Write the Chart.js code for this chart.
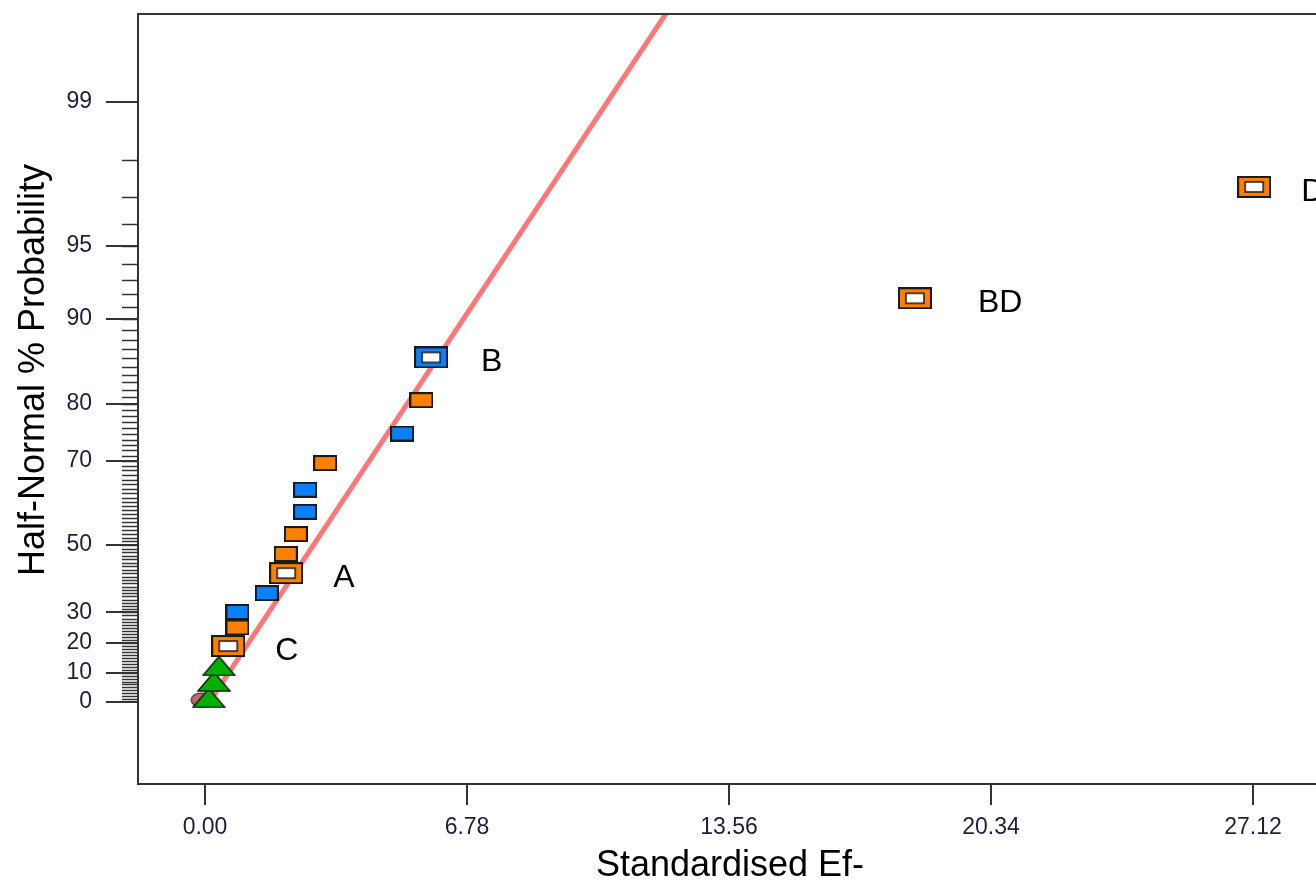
<!DOCTYPE html>
<html>
<head>
<meta charset="utf-8">
<title>Half-Normal Plot</title>
<script src="https://cdn.jsdelivr.net/npm/chart.js@4"></script>
<style>
  html, body { margin: 0; padding: 0; background: #fff; overflow: hidden; }
  canvas { display: block; }
</style>
</head>
<body>
<canvas id="mycanvas" width="1330" height="884"></canvas>
<script>
// effects: x = standardised effect, p = half-normal % probability
var bigOrangeNames = ['C', 'A', 'BD', 'D'];
var bigOrangeX = [0.60, 2.10, 18.37, 27.15];
var bigOrangeP = [19.0, 42.0, 91.7, 97.3];

var bigBlueNames = ['B'];
var bigBlueX = [5.85];
var bigBlueP = [86.1];

var orangeX = [0.84, 2.09, 2.35, 3.11, 5.60];
var orangeP = [25.1, 47.5, 52.9, 69.5, 80.5];

var blueX = [0.84, 1.60, 2.59, 2.59, 5.10];
var blueP = [30.1, 36.0, 58.6, 63.8, 75.1];

// error estimates
var errorX = [0.10, 0.23, 0.36];
var errorP = [1.4, 7.0, 12.3];

var otherX = [-0.10];
var otherP = [0.7];

// reference line
var lineX = [0.11, 12.3];
var lineP = [0, 99.77];

var xTicks = [0, 6.78, 13.56, 20.34, 27.12];
var yTicks = [0, 10, 20, 30, 50, 70, 80, 90, 95, 99];

// inverse normal cdf (Acklam), used for the half-normal probability axis
function normInv(p) {
  var a = [-3.969683028665376e+01, 2.209460984245205e+02, -2.759285104469687e+02, 1.383577518672690e+02, -3.066479806614716e+01, 2.506628277459239e+00];
  var b = [-5.447609879822406e+01, 1.615858368580409e+02, -1.556989798598866e+02, 6.680131188771972e+01, -1.328068155288572e+01];
  var c = [-7.784894002430293e-03, -3.223964580411365e-01, -2.400758277161838e+00, -2.549671489193467e+00, 4.374664141464968e+00, 2.938163982698783e+00];
  var d = [7.784695709041462e-03, 3.224671290700398e-01, 2.445134137142996e+00, 3.754408661907416e+00];
  var pl = 0.02425, q, r;
  if (p < pl) {
    q = Math.sqrt(-2 * Math.log(p));
    return (((((c[0]*q+c[1])*q+c[2])*q+c[3])*q+c[4])*q+c[5]) / ((((d[0]*q+d[1])*q+d[2])*q+d[3])*q+1);
  }
  if (p <= 1 - pl) {
    q = p - 0.5; r = q * q;
    return (((((a[0]*r+a[1])*r+a[2])*r+a[3])*r+a[4])*r+a[5])*q / (((((b[0]*r+b[1])*r+b[2])*r+b[3])*r+b[4])*r+1);
  }
  q = Math.sqrt(-2 * Math.log(1 - p));
  return -(((((c[0]*q+c[1])*q+c[2])*q+c[3])*q+c[4])*q+c[5]) / ((((d[0]*q+d[1])*q+d[2])*q+d[3])*q+1);
}
function probit(pct) { return normInv(0.5 + pct / 200); }

function toPoints(xs, ps) {
  return xs.map(function(x, i) { return {x: x, y: probit(ps[i])}; });
}

// marker images
function boxMarker(fill, big) {
  var c = document.createElement('canvas');
  var w = big ? 34 : 24, h = big ? 22 : 16;
  c.width = w; c.height = h;
  var g = c.getContext('2d');
  g.fillStyle = fill;
  g.fillRect(1, 1, w - 2, h - 2);
  g.strokeStyle = '#1a1a1a';
  g.lineWidth = 2;
  g.strokeRect(1, 1, w - 2, h - 2);
  if (big) {
    g.fillStyle = '#fff';
    g.fillRect(8, 6, w - 16, h - 12);
    g.lineWidth = 1.5;
    g.strokeRect(8, 6, w - 16, h - 12);
  }
  return c;
}
function triMarker() {
  var c = document.createElement('canvas');
  c.width = 34; c.height = 21;
  var g = c.getContext('2d');
  g.beginPath();
  g.moveTo(17, 1); g.lineTo(33, 20); g.lineTo(1, 20); g.closePath();
  g.fillStyle = '#00b000'; g.fill();
  g.strokeStyle = '#1a1a1a'; g.lineWidth = 1.5; g.stroke();
  return c;
}
function dotMarker() {
  var c = document.createElement('canvas');
  c.width = 22; c.height = 16;
  var g = c.getContext('2d');
  g.beginPath();
  g.ellipse(11, 8, 10, 7, 0, 0, Math.PI * 2);
  g.fillStyle = '#c46a6a'; g.fill();
  g.strokeStyle = '#333'; g.lineWidth = 1.2; g.stroke();
  return c;
}

var FONT = "Arial, 'Liberation Sans', sans-serif";
var labelGap = {B: 50, BD: 63}; // default gap is 47

var extras = {
  id: 'extras',
  afterDraw: function(chart) {
    var ctx = chart.ctx, a = chart.chartArea, y = chart.scales.y;
    ctx.save();
    // minor ticks at every 1 %
    ctx.strokeStyle = '#333';
    ctx.lineWidth = 1.5;
    for (var p = 1; p < 99; p++) {
      var py = Math.round(y.getPixelForValue(probit(p))) + 0.5;
      ctx.beginPath();
      ctx.moveTo(a.left - 16, py);
      ctx.lineTo(a.left, py);
      ctx.stroke();
    }
    // frame
    ctx.lineWidth = 2;
    ctx.strokeStyle = '#333';
    ctx.strokeRect(a.left, a.top, a.right - a.left, a.bottom - a.top);

    // point names
    ctx.fillStyle = '#000';
    ctx.font = '32px ' + FONT;
    ctx.textAlign = 'left';
    ctx.textBaseline = 'middle';
    chart.data.datasets.forEach(function(ds, i) {
      if (!ds.names) return;
      chart.getDatasetMeta(i).data.forEach(function(el, j) {
        var n = ds.names[j];
        ctx.fillText(n, el.x + (labelGap[n] || 47), el.y + 5);
      });
    });

    // y axis title
    ctx.font = '36px ' + FONT;
    ctx.textAlign = 'center';
    ctx.textBaseline = 'alphabetic';
    ctx.translate(44, 370);
    ctx.rotate(-Math.PI / 2);
    ctx.fillText('Half-Normal % Probability', 0, 0);
    ctx.restore();
  }
};

var ctx = document.getElementById('mycanvas').getContext('2d');

var chart = new Chart(ctx, {
  type: 'scatter',
  data: {
    datasets: [
      {
        label: 'Labelled (+)',
        data: toPoints(bigOrangeX, bigOrangeP),
        names: bigOrangeNames,
        pointStyle: boxMarker('#ff8000', true)
      },
      {
        label: 'Labelled (-)',
        data: toPoints(bigBlueX, bigBlueP),
        names: bigBlueNames,
        pointStyle: boxMarker('#0a80ff', true)
      },
      {
        label: 'Positive effects',
        data: toPoints(orangeX, orangeP),
        pointStyle: boxMarker('#ff8000', false)
      },
      {
        label: 'Negative effects',
        data: toPoints(blueX, blueP),
        pointStyle: boxMarker('#0a80ff', false)
      },
      {
        label: 'Error estimates',
        data: toPoints(errorX, errorP),
        pointStyle: triMarker()
      },
      {
        label: 'Other',
        data: toPoints(otherX, otherP),
        pointStyle: dotMarker()
      },
      {
        label: 'Line',
        data: toPoints(lineX, lineP),
        showLine: true,
        borderColor: 'rgb(255, 118, 118)',
        borderWidth: 5,
        pointRadius: 0
      }
    ]
  },
  options: {
    responsive: false,
    animation: false,
    events: [],
    layout: { padding: { top: 14, right: 8, left: 0, bottom: 0 } },
    plugins: {
      legend: { display: false },
      tooltip: { enabled: false }
    },
    scales: {
      x: {
        type: 'linear',
        min: -1.734,
        max: 28.905,
        afterBuildTicks: function(scale) {
          scale.ticks = xTicks.map(function(v) { return {value: v}; });
        },
        afterFit: function(scale) {
          scale.height = 100;
          scale.paddingLeft = 0;
          scale.paddingRight = 0;
        },
        ticks: {
          autoSkip: false,
          maxRotation: 0,
          padding: 9,
          color: '#1e1e3c',
          font: { family: FONT, size: 23 },
          callback: function(v) { return Number(v).toFixed(2); }
        },
        grid: { drawOnChartArea: false, tickLength: 21, color: '#333', lineWidth: 2 },
        border: { color: '#333', width: 2 },
        title: {
          display: true,
          text: 'Standardised Ef-',
          color: '#000',
          font: { family: FONT, size: 36, lineHeight: 1 },
          padding: { top: 0, bottom: 0 }
        }
      },
      y: {
        type: 'linear',
        min: -0.352,
        max: 2.954,
        afterBuildTicks: function(scale) {
          scale.ticks = yTicks.map(function(p) { return {value: probit(p)}; });
        },
        afterFit: function(scale) {
          scale.width = 138;
          scale.paddingTop = 0;
          scale.paddingBottom = 0;
        },
        ticks: {
          autoSkip: false,
          padding: 14,
          color: '#1e1e3c',
          font: { family: FONT, size: 23 },
          callback: function(v, i) { return String(yTicks[i]); }
        },
        grid: { drawOnChartArea: false, tickLength: 32, color: '#333', lineWidth: 2 },
        border: { color: '#333', width: 2 }
      }
    }
  },
  plugins: [extras]
});
</script>
</body>
</html>
